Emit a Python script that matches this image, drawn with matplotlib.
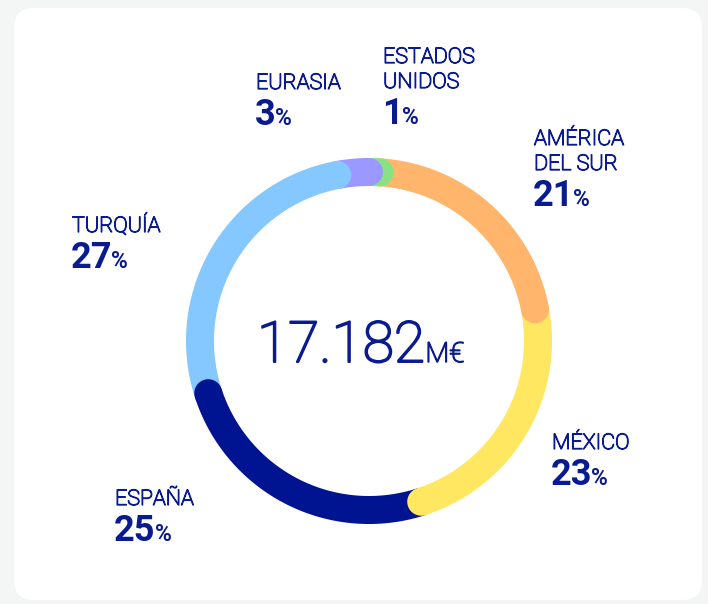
import numpy as np
import matplotlib.pyplot as plt
import matplotlib.patheffects as pe
from matplotlib.patches import FancyBboxPatch

regions = [["ESTADOS", "UNIDOS"], ["AMÉRICA", "DEL SUR"], ["MÉXICO"],
           ["ESPAÑA"], ["TURQUÍA"], ["EURASIA"]]
shares = [1, 21, 23, 25, 27, 3]
colors = ["#88e283", "#ffb56b", "#ffe761", "#001391", "#85c8ff", "#9b99ff"]
total_label = "17.182"
unit_label = "M€"

# label anchor (left x, baseline of last label line) in pixels
label_pos = [(383, 88), (534, 170), (552, 449), (115, 505), (72, 232), (256, 89)]

W, H = 708, 604
cx, cy, r = 369, 341, 169
ring_px = 28
txt = "#0a1a8f"

plt.rcParams['font.family'] = ['Roboto', 'DejaVu Sans']

fig = plt.figure(figsize=(W / 100, H / 100), dpi=100)
fig.patch.set_facecolor("#f4f6f6")
ax = fig.add_axes([0, 0, 1, 1])
ax.set_xlim(0, W)
ax.set_ylim(H, 0)
ax.set_aspect("equal")
ax.axis("off")

ax.add_patch(FancyBboxPatch((14, 8), 688, 592, boxstyle="round,pad=0,rounding_size=20",
                            fc="white", ec="none"))

lw = ring_px * 72 / 100
bounds = np.concatenate([[0], np.cumsum(shares)]) / sum(shares) * 2 * np.pi

# arcs first (flat ends), then round caps at segment ends on top
for i in range(len(shares)):
    th = np.linspace(bounds[i], bounds[i + 1], 100)
    ax.plot(cx + r * np.sin(th), cy - r * np.cos(th), color=colors[i], lw=lw,
            solid_capstyle="butt")
for i in range(len(shares)):
    th = bounds[i + 1]
    ax.scatter(cx + r * np.sin(th), cy - r * np.cos(th), s=lw ** 2, color=colors[i],
               edgecolors="none", zorder=3)

fig.canvas.draw()
renderer = fig.canvas.get_renderer()
inv = ax.transData.inverted()


def right_x(t):
    bb = t.get_window_extent(renderer)
    return inv.transform((bb.x1, bb.y0))[0]


for lines, share, (x, yb) in zip(regions, shares, label_pos):
    n = len(lines)
    for k, line in enumerate(lines):
        ax.text(x, yb - (n - 1 - k) * 25, line, fontsize=15.5, fontweight="light",
                color=txt, va="baseline", ha="left",
                path_effects=[pe.withStroke(linewidth=0.9, foreground=txt)])
    num = ax.text(x - 1, yb + 36, str(share), fontsize=26, fontweight="bold",
                  color=txt, va="baseline", ha="left")
    ax.text(right_x(num) - 1, yb + 36, "%", fontsize=16.5, fontweight="bold",
            color=txt, va="baseline", ha="left")

thick = [pe.withStroke(linewidth=1.4, foreground=txt)]
big = ax.text(257, 362, total_label, fontsize=41, fontweight="light", color=txt,
              va="baseline", ha="left", path_effects=thick)
ax.text(right_x(big), 362, unit_label, fontsize=20, fontweight="light", color=txt,
        va="baseline", ha="left", path_effects=[pe.withStroke(linewidth=1.0, foreground=txt)])

fig.savefig("out.png", dpi=100, facecolor=fig.get_facecolor())
